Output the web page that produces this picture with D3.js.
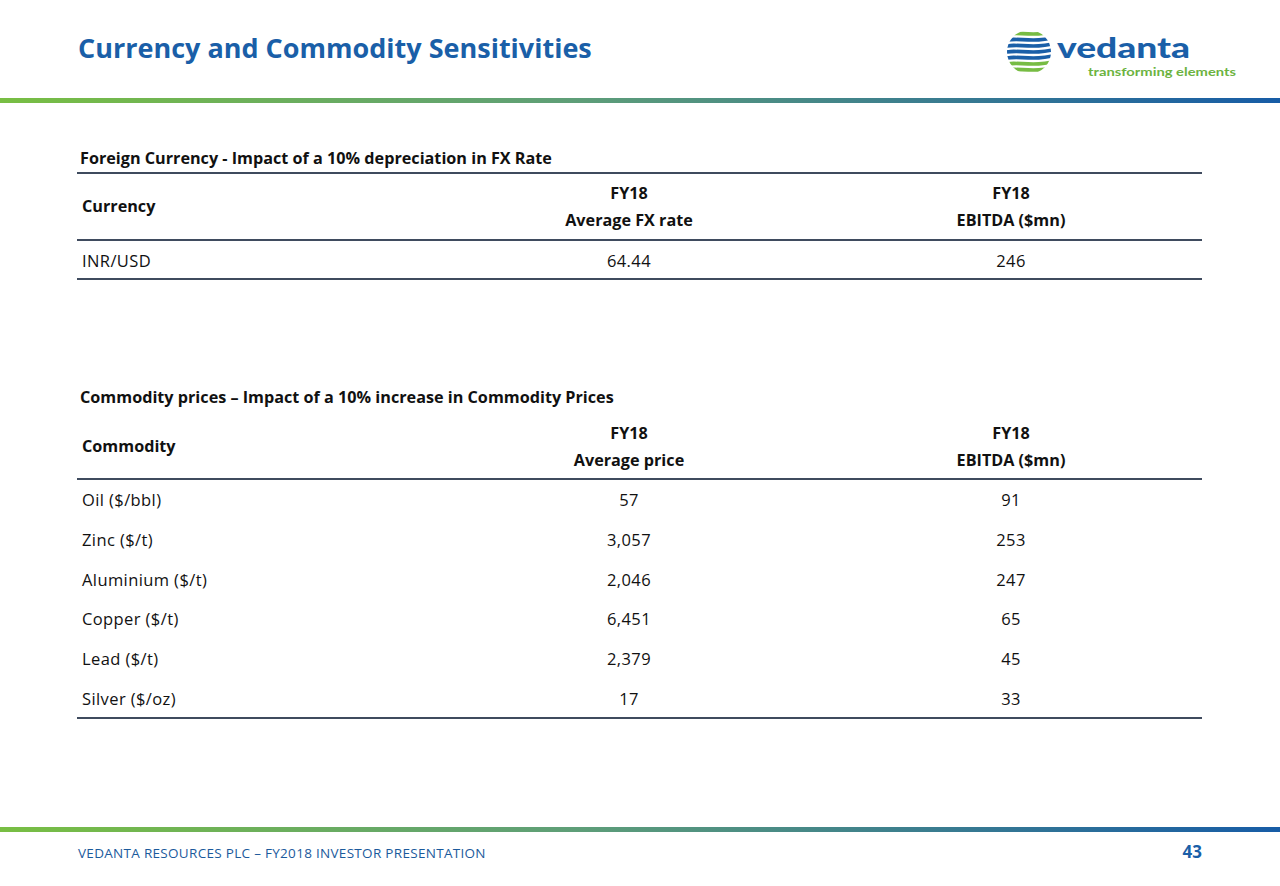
<!DOCTYPE html>
<html><head><meta charset="utf-8">
<script src="https://cdn.jsdelivr.net/npm/d3@7"></script>
<style>html,body{margin:0;padding:0;background:#fff;}svg{display:block;}</style>
</head><body>
<div id="chart"></div>
<script>
// ---- data ----
const pageTitle = "Currency and Commodity Sensitivities";
const fxTitle = "Foreign Currency - Impact of a 10% depreciation in FX Rate";
const fxHeaders = ["Currency", ["FY18", "Average FX rate"], ["FY18", "EBITDA ($mn)"]];
const currencies = ["INR/USD"];
const fxRates = ["64.44"];
const fxEbitda = [246];

const comTitle = "Commodity prices \u2013 Impact of a 10% increase in Commodity Prices";
const comHeaders = ["Commodity", ["FY18", "Average price"], ["FY18", "EBITDA ($mn)"]];
const commodities = ["Oil ($/bbl)", "Zinc ($/t)", "Aluminium ($/t)", "Copper ($/t)", "Lead ($/t)", "Silver ($/oz)"];
const avgPrices = [57, 3057, 2046, 6451, 2379, 17];
const comEbitda = [91, 253, 247, 65, 45, 33];

const footerText = "VEDANTA RESOURCES PLC \u2013 FY2018 INVESTOR PRESENTATION";
const pageNum = "43";

// ---- drawing ----
const W = 1280, H = 886;
const FONT = "'Open Sans', Lato, sans-serif";
const BLUE = "#1a5fa8", GREEN = "#77bc43", RULE = "#3f4b5e", TXT = "#111";
const svg = d3.select("#chart").append("svg").attr("width", W).attr("height", H);

const defs = svg.append("defs");
const grad = defs.append("linearGradient").attr("id", "bar").attr("x1", "0").attr("x2", "1");
grad.append("stop").attr("offset", "0").attr("stop-color", "#78be43");
grad.append("stop").attr("offset", "0.45").attr("stop-color", "#5e9e78");
grad.append("stop").attr("offset", "1").attr("stop-color", "#175ca6");

svg.append("text").attr("x", 78).attr("y", 58).attr("font-family", FONT).attr("font-weight", 700)
  .attr("font-size", 27).attr("fill", BLUE).text(pageTitle);

svg.append("rect").attr("x", 0).attr("y", 98).attr("width", W).attr("height", 5).attr("fill", "url(#bar)");
svg.append("rect").attr("x", 0).attr("y", 827).attr("width", W).attr("height", 5).attr("fill", "url(#bar)");

// logo
const logo = svg.append("g");
defs.append("clipPath").attr("id", "globe").append("circle").attr("cx", 1029).attr("cy", 52).attr("r", 22);
const g = logo.append("g").attr("clip-path", "url(#globe)");
const stripeColors = [GREEN, BLUE, BLUE, BLUE, BLUE, GREEN, GREEN, GREEN];
stripeColors.forEach((c, i) => {
  const y = 32 + i * 6;
  const p = d3.path();
  p.moveTo(1000, y + 4);
  p.bezierCurveTo(1015, y - 3, 1030, y + 7, 1060, y - 2);
  g.append("path").attr("d", p.toString()).attr("stroke", c).attr("stroke-width", 3.6).attr("fill", "none");
});
logo.append("text").attr("x", 1057).attr("y", 58).attr("font-family", "Lato, sans-serif").attr("font-weight", 900)
  .attr("font-size", 29).attr("fill", BLUE).attr("textLength", 133).attr("lengthAdjust", "spacingAndGlyphs").text("vedanta");
logo.append("text").attr("x", 1088).attr("y", 75.5).attr("font-family", "Lato, sans-serif").attr("font-weight", 700)
  .attr("font-size", 11).attr("fill", "#6cb33f").attr("textLength", 148).attr("lengthAdjust", "spacingAndGlyphs").text("transforming elements");

// columns
const colX = d3.scaleOrdinal().domain([0, 1, 2]).range([82, 629, 1011]);
const colAnchor = i => i === 0 ? "start" : "middle";
const fmt = d3.format(",");
const FSB = 16.2, FSR = 16.5;

function drawTable(opts) {
  const t = svg.append("g");
  t.append("text").attr("x", 80).attr("y", opts.titleY).attr("font-family", FONT).attr("font-weight", 700)
    .attr("font-size", FSB).attr("fill", TXT).text(opts.title);
  if (opts.topRule != null)
    t.append("line").attr("x1", 77).attr("x2", 1202).attr("y1", opts.topRule).attr("y2", opts.topRule)
      .attr("stroke", RULE).attr("stroke-width", 2);
  opts.headers.forEach((h, i) => {
    if (Array.isArray(h)) {
      h.forEach((s, k) => t.append("text").attr("x", colX(i)).attr("y", opts.headY + 6 + (k === 0 ? -13 : 14))
        .attr("text-anchor", "middle").attr("font-family", FONT).attr("font-weight", 700).attr("font-size", FSB)
        .attr("fill", TXT).text(s));
    } else {
      t.append("text").attr("x", colX(i)).attr("y", opts.headY + 6).attr("font-family", FONT).attr("font-weight", 700)
        .attr("font-size", FSB).attr("fill", TXT).text(h);
    }
  });
  const y = d3.scaleBand().domain(opts.rows.map((d, i) => i)).range([opts.bodyTop, opts.bodyBottom]);
  [opts.bodyTop, opts.bodyBottom].forEach(v =>
    t.append("line").attr("x1", 77).attr("x2", 1202).attr("y1", v).attr("y2", v).attr("stroke", RULE).attr("stroke-width", 2));
  const rowsG = t.selectAll("g.row").data(opts.rows).join("g").attr("class", "row")
    .attr("transform", (d, i) => `translate(0,${y(i) + y.bandwidth() / 2 + 7})`);
  rowsG.each(function (d) {
    d.forEach((v, i) => d3.select(this).append("text").attr("x", colX(i)).attr("text-anchor", colAnchor(i))
      .attr("font-family", FONT).attr("font-size", FSR).attr("letter-spacing", 0.4).attr("fill", TXT).text(v));
  });
}

drawTable({
  title: fxTitle, titleY: 164, topRule: 173, headers: fxHeaders, headY: 206,
  rows: currencies.map((c, i) => [c, fxRates[i], fmt(fxEbitda[i])]),
  bodyTop: 240, bodyBottom: 279
});
drawTable({
  title: comTitle, titleY: 403, topRule: null, headers: comHeaders, headY: 446,
  rows: commodities.map((c, i) => [c, fmt(avgPrices[i]), fmt(comEbitda[i])]),
  bodyTop: 479, bodyBottom: 718
});

svg.append("text").attr("x", 78).attr("y", 858).attr("font-family", FONT).attr("font-size", 13.5)
  .attr("letter-spacing", 0.3).attr("fill", "#1b5a9c").text(footerText);
svg.append("text").attr("x", 1202).attr("y", 858).attr("text-anchor", "end").attr("font-family", FONT)
  .attr("font-weight", 700).attr("font-size", 17).attr("fill", BLUE).text(pageNum);
</script>
</body></html>
